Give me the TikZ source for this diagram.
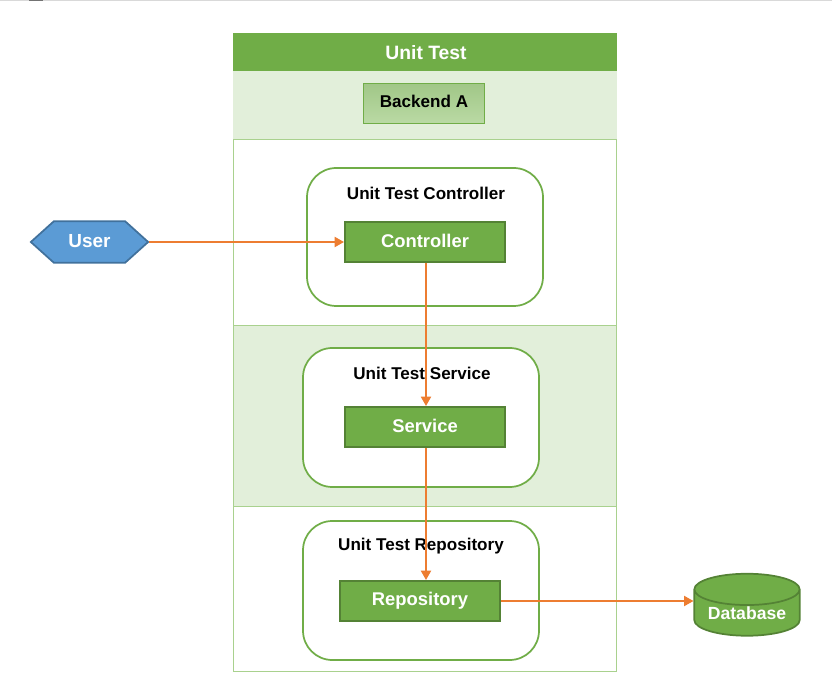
\documentclass[tikz,border=0pt]{standalone}
\usepackage{fontspec}
\setmainfont{Liberation Sans}
\usetikzlibrary{arrows.meta,shapes.geometric,shapes.symbols}
\definecolor{bargreen}{HTML}{70AD47}
\definecolor{darkgreen}{HTML}{548235}
\definecolor{palegreen}{HTML}{E2EFDA}
\definecolor{bandline}{HTML}{A9D18E}
\definecolor{flow}{HTML}{ED7D31}
\definecolor{userblue}{HTML}{5B9BD5}
\definecolor{userline}{HTML}{41719C}
\tikzset{
    layerbox/.style={rectangle,draw=darkgreen,fill=bargreen,line width=1.5pt,inner sep=0pt,
        minimum width=120pt,minimum height=30pt,text=white,font=\fontsize{13.8}{15}\selectfont\bfseries,
        text height=13pt,text depth=5pt},
    testbox/.style={draw=bargreen,line width=1.3pt,fill=white,rounded corners=22pt},
    testlabel/.style={inner sep=0pt,font=\fontsize{12.8}{14}\selectfont\bfseries},
    flowline/.style={draw=flow,line width=1.4pt,-{Triangle[length=7pt,width=7.5pt]}}
}
\begin{document}
\begin{tikzpicture}[x=.75pt,y=-.75pt]
    \useasboundingbox (0,0) rectangle (832,698);
    % window edge
    \draw[draw=black!15,line width=.8pt] (0,0.5) -- (832,0.5);
    \fill[black!55] (29,0) rectangle (43,1.5);
    % bands
    \draw[draw=bandline,fill=white,line width=.6pt] (233.5,139) rectangle (616.5,671);
    \fill[palegreen] (233,71) rectangle (617,139);
    \draw[draw=bandline,fill=palegreen,line width=.6pt] (233.5,325) rectangle (616.5,506);
    \draw[draw=bandline,line width=.6pt] (233,139) -- (617,139);
    \fill[bargreen] (233,33) rectangle (617,71);
    \node[text=white,inner sep=0pt,font=\fontsize{14.5}{16}\selectfont\bfseries] (unittest) at (426,52.5) {Unit Test};
    \node[rectangle,draw=bargreen,line width=.7pt,top color=bandline!95!black,bottom color=bandline!80!white,
        minimum width=91pt,minimum height=30.5pt,inner sep=0pt,font=\fontsize{12.8}{14}\selectfont\bfseries,
        text height=12.5pt,text depth=6pt] (backend) at (424,103.5) {Backend A};
    % test boxes
    \draw[testbox] (307,168) rectangle (543,306);
    \draw[testbox] (303,348) rectangle (539,487);
    \draw[testbox] (303,521) rectangle (539,660);
    \node[testlabel] (lblcontroller) at (426,193) {Unit Test Controller};
    \node[testlabel] (lblservice) at (422,373) {Unit Test Service};
    \node[testlabel] (lblrepository) at (421,546) {Unit Test Repository};
    \node[layerbox] (controller) at (425,242) {Controller};
    \node[layerbox] (service) at (425,427) {Service};
    \node[layerbox,text height=12.5pt,text depth=5.5pt] (repository) at (420,601) {Repository};
    \node[signal,signal to=west and east,signal pointer angle=84,draw=userline,fill=userblue,line width=1.3pt,
        minimum width=88pt,minimum height=31pt,inner sep=0pt,text=white,font=\fontsize{14.2}{15}\selectfont\bfseries,
        text height=13pt,text depth=5pt] (user) at (89.5,242) {User};
    \node[cylinder,shape border rotate=90,shape aspect=.4,draw=darkgreen,fill=bargreen,line width=1.3pt,
        minimum width=79pt,minimum height=46.5pt,inner sep=0pt,text=white,font=\fontsize{13.2}{14}\selectfont\bfseries] (database) at (747,613) {Database};
    % flow
    \draw[flowline] (user.east) -- (controller.west);
    \draw[flowline] ([xshift=.75pt]controller.south) -- ([xshift=.75pt]service.north);
    \draw[flowline] ([xshift=.75pt]service.south) -- ([xshift=.75pt]service.south |- repository.north);
    \draw[flowline] (repository.east) -- (database.west |- repository.east);
\end{tikzpicture}
\end{document}
